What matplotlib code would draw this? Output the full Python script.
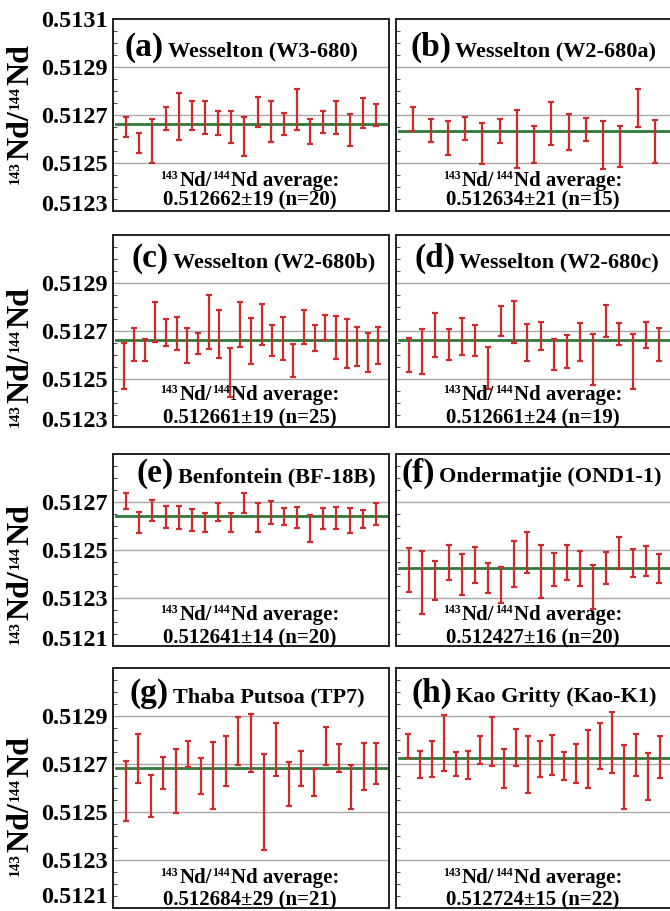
import matplotlib
matplotlib.use("Agg")
import matplotlib.pyplot as plt
from matplotlib.ticker import MultipleLocator, FixedLocator, FixedFormatter

plt.rcParams['font.family'] = ['Liberation Serif', 'DejaVu Serif']
plt.rcParams['font.weight'] = 'bold'

# ---- data (upper / lower ends of each 2SE error bar) ----
a_hi = [0.512690, 0.512623, 0.512685, 0.512732, 0.512792, 0.512757, 0.512757, 0.512717, 0.512717, 0.512693,
        0.512774, 0.512757, 0.512710, 0.512807, 0.512683, 0.512717, 0.512757, 0.512703, 0.512771, 0.512745]
a_lo = [0.512607, 0.512542, 0.512502, 0.512636, 0.512595, 0.512639, 0.512621, 0.512616, 0.512584, 0.512529,
        0.512648, 0.512588, 0.512616, 0.512639, 0.512580, 0.512626, 0.512619, 0.512569, 0.512647, 0.512655]

b_hi = [0.512732, 0.512683, 0.512676, 0.512692, 0.512665, 0.512682, 0.512722, 0.512655, 0.512754, 0.512703,
        0.512689, 0.512675, 0.512653, 0.512809, 0.512678]
b_lo = [0.512634, 0.512586, 0.512533, 0.512594, 0.512495, 0.512583, 0.512481, 0.512502, 0.512576, 0.512555,
        0.512591, 0.512474, 0.512484, 0.512648, 0.512498]

c_hi = [0.512648, 0.512711, 0.512668, 0.512822, 0.512749, 0.512757, 0.512713, 0.512692, 0.512850, 0.512787,
        0.512631, 0.512822, 0.512755, 0.512812, 0.512724, 0.512760, 0.512645, 0.512787, 0.512727, 0.512766,
        0.512764, 0.512748, 0.512717, 0.512690, 0.512717]
c_lo = [0.512459, 0.512577, 0.512577, 0.512654, 0.512637, 0.512619, 0.512568, 0.512605, 0.512626, 0.512589,
        0.512426, 0.512633, 0.512564, 0.512640, 0.512594, 0.512580, 0.512510, 0.512645, 0.512617, 0.512661,
        0.512585, 0.512547, 0.512556, 0.512529, 0.512563]

d_hi = [0.512671, 0.512708, 0.512773, 0.512707, 0.512755, 0.512725, 0.512633, 0.512805, 0.512825, 0.512729,
        0.512739, 0.512668, 0.512683, 0.512734, 0.512686, 0.512809, 0.512735, 0.512689, 0.512736, 0.512714]
d_lo = [0.512529, 0.512521, 0.512591, 0.512580, 0.512601, 0.512594, 0.512459, 0.512678, 0.512648, 0.512577,
        0.512622, 0.512536, 0.512546, 0.512575, 0.512473, 0.512675, 0.512641, 0.512459, 0.512631, 0.512575]

e_hi = [0.512736, 0.512659, 0.512708, 0.512685, 0.512682, 0.512672, 0.512654, 0.512694, 0.512654, 0.512736,
        0.512697, 0.512706, 0.512676, 0.512680, 0.512645, 0.512676, 0.512679, 0.512676, 0.512668, 0.512697]
e_lo = [0.512671, 0.512572, 0.512620, 0.512593, 0.512586, 0.512578, 0.512576, 0.512619, 0.512576, 0.512656,
        0.512575, 0.512607, 0.512606, 0.512593, 0.512534, 0.512589, 0.512588, 0.512572, 0.512591, 0.512603]

f_hi = [0.512508, 0.512494, 0.512455, 0.512521, 0.512485, 0.512511, 0.512445, 0.512430, 0.512539, 0.512577,
        0.512521, 0.512489, 0.512520, 0.512496, 0.512437, 0.512490, 0.512553, 0.512503, 0.512515, 0.512483]
f_lo = [0.512325, 0.512233, 0.512291, 0.512374, 0.512312, 0.512362, 0.512322, 0.512281, 0.512344, 0.512406,
        0.512302, 0.512348, 0.512375, 0.512350, 0.512254, 0.512358, 0.512419, 0.512388, 0.512393, 0.512364]

g_hi = [0.512714, 0.512825, 0.512654, 0.512728, 0.512763, 0.512795, 0.512724, 0.512790, 0.512815, 0.512897,
        0.512910, 0.512742, 0.512872, 0.512708, 0.512755, 0.512680, 0.512855, 0.512785, 0.512696, 0.512788,
        0.512788]
g_lo = [0.512464, 0.512620, 0.512478, 0.512597, 0.512496, 0.512686, 0.512577, 0.512511, 0.512609, 0.512696,
        0.512666, 0.512341, 0.512650, 0.512524, 0.512608, 0.512567, 0.512696, 0.512665, 0.512514, 0.512592,
        0.512615]

h_hi = [0.512824, 0.512754, 0.512794, 0.512903, 0.512752, 0.512755, 0.512815, 0.512897, 0.512763, 0.512846,
        0.512817, 0.512794, 0.512820, 0.512752, 0.512783, 0.512843, 0.512872, 0.512917, 0.512778, 0.512825,
        0.512745, 0.512817]
h_lo = [0.512726, 0.512640, 0.512647, 0.512669, 0.512651, 0.512636, 0.512699, 0.512690, 0.512601, 0.512692,
        0.512578, 0.512644, 0.512654, 0.512634, 0.512622, 0.512602, 0.512680, 0.512661, 0.512514, 0.512650,
        0.512549, 0.512643]

panel_letters = ['(a)', '(b)', '(c)', '(d)', '(e)', '(f)', '(g)', '(h)']
panel_names = ['Wesselton (W3-680)', 'Wesselton (W2-680a)', 'Wesselton (W2-680b)', 'Wesselton (W2-680c)',
               'Benfontein (BF-18B)', 'Ondermatjie (OND1-1)', 'Thaba Putsoa (TP7)', 'Kao Gritty (Kao-K1)']
averages = [0.512662, 0.512634, 0.512661, 0.512661, 0.512641, 0.512427, 0.512684, 0.512724]
avg_labels = ['0.512662\u00b119 (n=20)', '0.512634\u00b121 (n=15)', '0.512661\u00b119 (n=25)',
              '0.512661\u00b124 (n=19)', '0.512641\u00b114 (n=20)', '0.512427\u00b116 (n=20)',
              '0.512684\u00b129 (n=21)', '0.512724\u00b115 (n=22)']
row_ylims = [(0.5123, 0.5131), (0.5123, 0.5131), (0.5121, 0.5129), (0.5121, 0.5131)]

his = [a_hi, b_hi, c_hi, d_hi, e_hi, f_hi, g_hi, h_hi]
los = [a_lo, b_lo, c_lo, d_lo, e_lo, f_lo, g_lo, h_lo]

# ---- layout (pixels, from top-left) ----
W, H = 670, 911
fig = plt.figure(figsize=(W / 100, H / 100), dpi=100)
renderer = fig.canvas.get_renderer()

row_px = [(19, 211), (235, 427), (454, 646), (668, 908)]
col_px = [(113, 389), (396, 672)]
title_base = [37, 32, 28, 34]
avg1_base = [25, 27, 26, 25]
avg2_base = [6, 4, 3, 3]
split_px = [165, 452, 170, 456, 175, 436, 170, 453]
ylabel_y = [114, 357, 574, 806]
bottom_label_va = ['baseline', 'baseline', 'baseline', 'bottom']

RED = '#d22a2a'
GREEN = '#2f7a3a'
GRID = '#a8a8a8'


def text_width(s, size):
    t = fig.text(0, 0, s, fontsize=size, fontweight='bold')
    w = t.get_window_extent(renderer=renderer).width
    t.remove()
    return w


def rich(center, base, pieces, rotation=0, gap=1.0):
    """Draw text pieces (string, size, rise_px) centred at `center` along the text
    direction; `base` is the baseline position (display px, bottom-left origin)."""
    widths = [text_width(s, sz) for s, sz, _ in pieces]
    total = sum(widths) + gap * (len(pieces) - 1)
    pos = center - total / 2
    for (s, sz, rise), w in zip(pieces, widths):
        if rotation == 0:
            fig.text(pos / W, (base + rise) / H, s, fontsize=sz, fontweight='bold',
                     ha='left', va='baseline', zorder=6)
        else:
            fig.text((base - rise) / W, pos / H, s, fontsize=sz, fontweight='bold',
                     rotation=90, rotation_mode='anchor', ha='left', va='baseline', zorder=6)
        pos += w + gap


for i in range(8):
    r, c = divmod(i, 2)
    top, bot = row_px[r]
    lft, rgt = col_px[c]
    ax = fig.add_axes([lft / W, 1 - bot / H, (rgt - lft) / W, (bot - top) / H])
    hi, lo = his[i], los[i]
    n = len(hi)
    x = list(range(1, n + 1))
    mid = [(h + l) / 2 for h, l in zip(hi, lo)]
    err = [(h - l) / 2 for h, l in zip(hi, lo)]
    ymin, ymax = row_ylims[r]
    ax.set_xlim(0, n + 1)
    ax.set_ylim(ymin, ymax)
    ticks = [ymin + k * 0.0002 for k in range(int(round((ymax - ymin) / 0.0002)) + 1)]
    for t in ticks[1:-1]:
        ax.axhline(t, color=GRID, lw=1.0, zorder=1)
    ax.axhline(averages[i], xmin=0.012, xmax=0.988, color=GREEN, lw=2.0, zorder=2)
    ax.errorbar(x, mid, yerr=err, fmt='none', ecolor=RED, elinewidth=1.6,
                capsize=2.2, capthick=1.6, zorder=3)
    ax.set_xticks([])
    ax.yaxis.set_major_locator(FixedLocator(ticks))
    ax.yaxis.set_minor_locator(MultipleLocator(0.00005))
    if c == 0:
        labs = ['%.4f' % t for t in ticks]
        if r > 0:
            labs[-1] = ''
        ax.yaxis.set_major_formatter(FixedFormatter(labs))
        ax.tick_params(axis='y', which='major', labelsize=17.5, pad=4, length=0)
        for lab in ax.get_yticklabels():
            lab.set_fontweight('bold')
        ax.yaxis.get_major_ticks()[0].label1.set_va(bottom_label_va[r])
    else:
        ax.tick_params(axis='y', which='major', labelleft=False, length=0)
    ax.tick_params(axis='y', which='minor', direction='in', length=3, width=0.8, color='#555555')
    for s in ax.spines.values():
        s.set_linewidth(1.4)
        s.set_color('#222222')

    # panel title
    tb = H - (top + title_base[r])
    fig.text((split_px[i] - 1) / W, tb / H, panel_letters[i], ha='right', va='baseline',
             fontsize=24, fontweight='bold', zorder=6)
    fig.text((split_px[i] + 3) / W, tb / H, panel_names[i], ha='left', va='baseline',
             fontsize=16, fontweight='bold', zorder=6)
    # average text
    cx = (lft + rgt) / 2 - 1
    rich(cx, H - (bot - avg1_base[r]),
         [('143', 8.5, 7), ('Nd/', 15, 0), ('144', 8.5, 7), ('Nd average:', 15, 0)])
    fig.text(cx / W, (H - (bot - avg2_base[r])) / H, avg_labels[i], ha='center', va='baseline',
             fontsize=15, fontweight='bold', zorder=6)

for y in ylabel_y:
    rich(H - y, 28, [('143', 11, 9), ('Nd/', 23, 0), ('144', 11, 9), ('Nd', 23, 0)], rotation=90)

fig.savefig('out.png', dpi=100)
